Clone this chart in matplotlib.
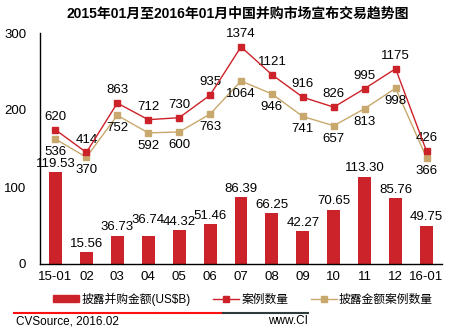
import matplotlib
matplotlib.use('Agg')
import matplotlib.pyplot as plt
from matplotlib.lines import Line2D
import matplotlib.patches as mpatches
import numpy as np

plt.rcParams['font.family'] = ['Liberation Sans', 'Noto Sans CJK SC', 'DejaVu Sans']

# 月份与数据
months = ['15-01', '02', '03', '04', '05', '06', '07', '08', '09', '10', '11', '12', '16-01']
amount = [119.53, 15.56, 36.73, 36.74, 44.32, 51.46, 86.39, 66.25, 42.27, 70.65, 113.30, 85.76, 49.75]
deals = [620, 414, 863, 712, 730, 935, 1374, 1121, 916, 826, 995, 1175, 426]
disclosed = [536, 370, 752, 592, 600, 763, 1064, 946, 741, 657, 813, 998, 366]

red = '#CC2229'
tan = '#C8A86C'

fig = plt.figure(figsize=(4.63, 3.32), dpi=100)
ax = fig.add_axes([40 / 463, 1 - 264 / 332, 402 / 463, 231 / 332])
x = np.arange(len(months))

ax.bar(x, amount, width=0.42, color=red, zorder=2)
for i, v in enumerate(amount):
    dy = 3 if i != 3 else 13
    ax.text(i, v + dy, '%.2f' % v, ha='center', va='bottom', fontsize=9.5, zorder=5)

ax.set_xlim(-0.5, 12.5)
ax.set_ylim(0, 300)
ax.set_yticks([0, 100, 200, 300])
ax.set_xticks(x)
ax.set_xticklabels(months)
ax.tick_params(axis='y', length=0, pad=10, labelsize=9.5)
ax.tick_params(axis='x', length=0, pad=5, labelsize=9.5)
for s in ['top', 'right']:
    ax.spines[s].set_visible(False)
ax.spines['left'].set_linewidth(1)
ax.spines['bottom'].set_linewidth(1)

# 案例数量使用次坐标轴
ax2 = ax.twinx()
ax2.set_ylim(-600, 1500)
ax2.axis('off')
ax2.plot(x, deals, color=red, lw=1, marker='s', ms=4.5, zorder=4)
ax2.plot(x, disclosed, color=tan, lw=1, marker='s', ms=4.5, zorder=3)
for i in x:
    ax2.annotate(str(deals[i]), (i, deals[i]), xytext=(0, 5), textcoords='offset points',
                 ha='center', va='bottom', fontsize=9.5)
    ax2.annotate(str(disclosed[i]), (i, disclosed[i]), xytext=(0, -5), textcoords='offset points',
                 ha='center', va='top', fontsize=9.5)

fig.text(238 / 463, 1 - 14 / 332, '2015年01月至2016年01月中国并购市场宣布交易趋势图',
         ha='center', va='center', fontsize=10, fontweight='bold')

handles = [mpatches.Patch(color=red, label='披露并购金额(US$B)'),
           Line2D([], [], color=red, lw=1, marker='s', ms=4, label='案例数量'),
           Line2D([], [], color=tan, lw=1, marker='s', ms=4, label='披露金额案例数量')]
fig.legend(handles=handles, loc='center', bbox_to_anchor=(243 / 463, 1 - 299 / 332), ncol=3,
           frameon=False, fontsize=8.5, handlelength=2.2, handleheight=0.6, handletextpad=0.2,
           columnspacing=1.9, borderpad=0)

# 底部来源栏
fig.add_artist(Line2D([14 / 463, 223 / 463], [1 - 313 / 332] * 2, color='#FF1010', lw=1.5))
fig.add_artist(Line2D([223 / 463, 308 / 463], [1 - 313 / 332] * 2, color='#2F3A3A', lw=1.5))
fig.text(16 / 463, 1 - 321 / 332, 'CVSource, 2016.02', ha='left', va='center', fontsize=8.5)
fig.text(308 / 463, 1 - 321 / 332, 'www.CI', ha='right', va='center', fontsize=8.5)

fig.savefig('out.png', dpi=100)
